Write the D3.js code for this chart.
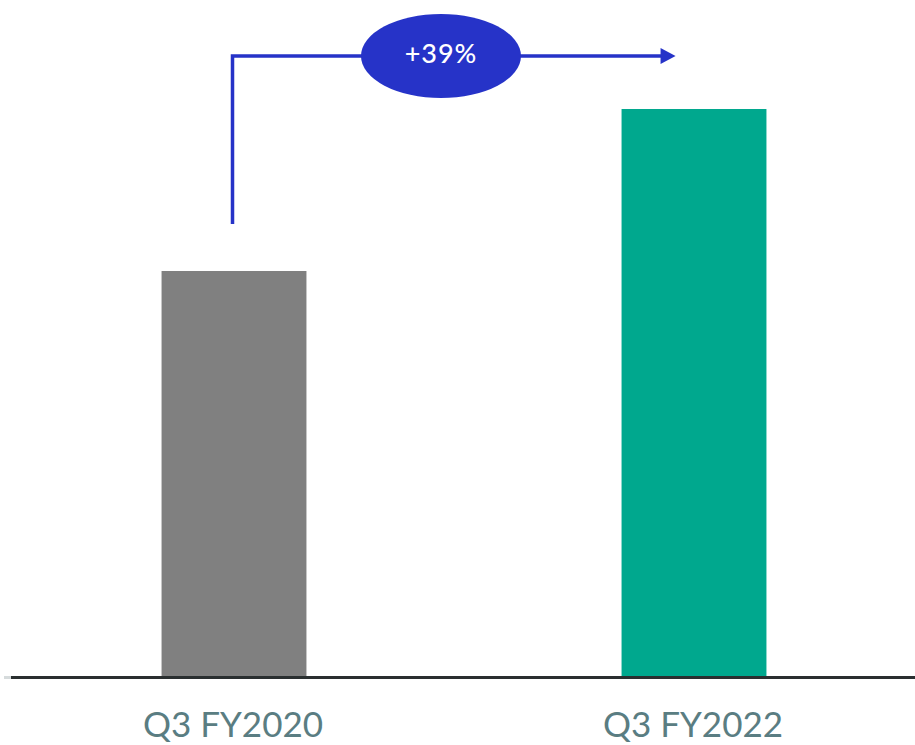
<!DOCTYPE html>
<html>
<head>
<meta charset="utf-8">
<script src="https://cdn.jsdelivr.net/npm/d3@7"></script>
<style>
  html, body { margin: 0; padding: 0; background: #ffffff; }
  svg { display: block; }
</style>
</head>
<body>
<svg id="chart" width="915" height="745"></svg>
<script>
// Quarterly comparison
const categories = ["Q3 FY2020", "Q3 FY2022"];
const values = [100, 139.9];
const barColors = ["#808080", "#00a88e"];

const width = 915, height = 745;
const svg = d3.select("#chart");

const x = d3.scaleBand()
  .domain(categories)
  .range([4, 924])
  .paddingInner(0.685)
  .paddingOuter(0.3425);

const y = d3.scaleLinear()
  .domain([0, 100])
  .range([677, 271]);

// Bars
svg.selectAll("rect.bar")
  .data(categories)
  .join("rect")
  .attr("class", "bar")
  .attr("x", d => x(d))
  .attr("width", x.bandwidth())
  .attr("y", (d, i) => y(values[i]))
  .attr("height", (d, i) => y(0) - y(values[i]))
  .attr("fill", (d, i) => barColors[i]);

// Baseline
svg.append("line")
  .attr("x1", 4).attr("x2", 11)
  .attr("y1", y(0) + 0.5).attr("y2", y(0) + 0.5)
  .attr("stroke", "#d6dbdc").attr("stroke-width", 3);
svg.append("line")
  .attr("x1", 11).attr("x2", width)
  .attr("y1", y(0) + 0.5).attr("y2", y(0) + 0.5)
  .attr("stroke", "#2a2f30").attr("stroke-width", 3);

// Category labels
const xAxis = d3.axisBottom(x).tickSize(0).tickPadding(0);
const axisG = svg.append("g").call(xAxis);
axisG.select(".domain").remove();
axisG.selectAll(".tick text")
  .attr("y", 737)
  .attr("dy", null)
  .attr("dx", -1)
  .attr("fill", "#5a7d82")
  .attr("font-family", "Lato, 'Open Sans', sans-serif")
  .attr("font-size", 35)
  .attr("text-anchor", "middle");

// Growth connector (truncated percentage)
const growth = Math.floor((values[1] / values[0] - 1) * 100);
const startX = x(categories[0]) + x.bandwidth() / 2 - 1.5;
const startY = y(values[0]) - 47;
const lineY = 56;
const endX = x(categories[1]) + 54;
const arrowColor = "#2633c8";

svg.append("path")
  .attr("d", `M${startX},${startY} V${lineY} H${endX - 14}`)
  .attr("fill", "none")
  .attr("stroke", arrowColor)
  .attr("stroke-width", 3.5);

svg.append("path")
  .attr("d", `M${endX - 15},${lineY - 8} L${endX},${lineY} L${endX - 15},${lineY + 8} Z`)
  .attr("fill", arrowColor);

const bubbleX = (x(categories[0]) + x(categories[1]) + x.bandwidth()) / 2 - 23;
svg.append("ellipse")
  .attr("cx", bubbleX)
  .attr("cy", lineY)
  .attr("rx", 80)
  .attr("ry", 42)
  .attr("fill", arrowColor);

svg.append("text")
  .attr("x", bubbleX)
  .attr("y", lineY + 7)
  .attr("text-anchor", "middle")
  .attr("fill", "#ffffff")
  .attr("font-family", "Lato, 'Open Sans', sans-serif")
  .attr("font-size", 27)
  .attr("font-weight", 500)
  .attr("letter-spacing", 1)
  .text(`+${growth}%`);
</script>
</body>
</html>
